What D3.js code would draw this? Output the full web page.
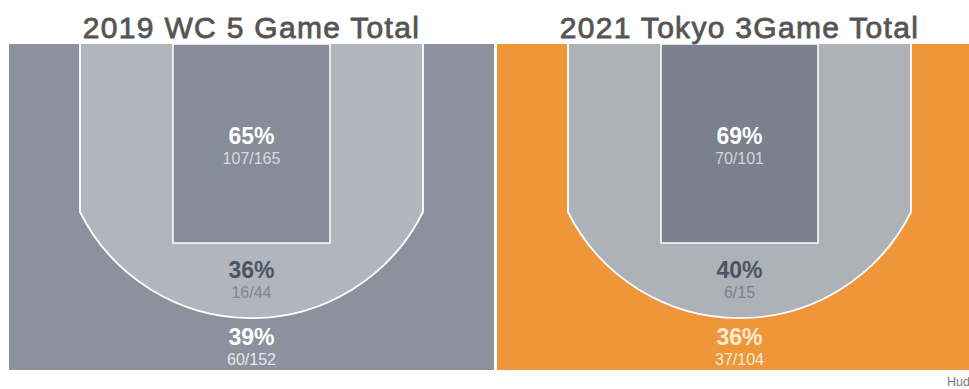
<!DOCTYPE html>
<html>
<head>
<meta charset="utf-8">
<script src="https://cdn.jsdelivr.net/npm/d3@7"></script>
<style>
  html, body { margin: 0; padding: 0; background: #fff; overflow: hidden; }
  svg { display: block; }
</style>
</head>
<body>
<div id="chart"></div>
<script>
// Shot zones: paint / mid-range / three-point, two tournaments
const titles   = ["2019 WC 5 Game Total", "2021 Tokyo 3Game Total"];
const zones    = ["paint", "mid", "three"];
const made     = [[107, 16, 60], [70, 6, 37]];
const attempts = [[165, 44, 152], [101, 15, 104]];

const width = 969, height = 389;
const panelW = 485, panelTop = 44, panelBottom = 370;

// colours per panel: outer (three), arc zone (mid), lane (paint)
const palettes = [
  { outer: "#8b929d", mid: "#b1b5bd", lane: "#868d99",
    txt: { paint: ["#ffffff", "#d6d9de"], mid: ["#4b5462", "#80858d"], three: ["#ffffff", "#e6e8eb"] } },
  { outer: "#f0963a", mid: "#adb1b8", lane: "#7a818c",
    txt: { paint: ["#ffffff", "#d3d6db"], mid: ["#4b5462", "#7b8088"], three: ["#fde8d0", "#fdebd8"] } }
];

const svg = d3.select("#chart").append("svg")
  .attr("width", width)
  .attr("height", height);

// panel placement
const x = d3.scaleBand()
  .domain(titles)
  .range([9, 9 + panelW * 2 + 3])
  .paddingInner(3 / (panelW + 3));

// court geometry relative to panel centre (px)
const cornerHalf = 171.5, cornerBottom = 212;
const arcR = 191.7;
const laneHalf = 78.5, laneBottom = 243;

const labelY = { paint: [144, 164], mid: [278, 298], three: [345, 365] };

titles.forEach((title, i) => {
  const x0 = x(title);
  const cx = x0 + panelW / 2;
  const pal = palettes[i];
  const g = svg.append("g");

  g.append("rect")
    .attr("x", x0).attr("y", panelTop)
    .attr("width", panelW).attr("height", panelBottom - panelTop)
    .attr("fill", pal.outer);

  // mid-range area inside the three-point line
  g.append("path")
    .attr("d", `M${cx - cornerHalf},${panelTop} L${cx - cornerHalf},${cornerBottom}
      A${arcR},${arcR} 0 0 0 ${cx + cornerHalf},${cornerBottom} L${cx + cornerHalf},${panelTop}`)
    .attr("fill", pal.mid)
    .attr("stroke", "#fff")
    .attr("stroke-width", 1.8);

  // paint
  g.append("rect")
    .attr("x", cx - laneHalf).attr("y", panelTop)
    .attr("width", laneHalf * 2).attr("height", laneBottom - panelTop)
    .attr("fill", pal.lane)
    .attr("stroke", "#fff")
    .attr("stroke-width", 1.5);

  // title
  svg.append("text")
    .attr("x", cx).attr("y", 38)
    .attr("text-anchor", "middle")
    .style("font-family", "'Liberation Sans', Arial, sans-serif")
    .style("font-size", "30px")
    .style("letter-spacing", "1.3px")
    .style("fill", "#555")
    .style("stroke", "#555")
    .style("stroke-width", "0.8px")
    .text(title);

  zones.forEach((z, j) => {
    const pct = Math.round(made[i][j] / attempts[i][j] * 100);
    g.append("text")
      .attr("x", cx).attr("y", labelY[z][0])
      .attr("text-anchor", "middle")
      .style("font-family", "'Liberation Sans', Arial, sans-serif")
      .style("font-size", "23px")
      .style("font-weight", "bold")
      .style("fill", pal.txt[z][0])
      .text(pct + "%");
    g.append("text")
      .attr("x", cx).attr("y", labelY[z][1])
      .attr("text-anchor", "middle")
      .style("font-family", "'Liberation Sans', Arial, sans-serif")
      .style("font-size", "16px")
      .style("fill", pal.txt[z][1])
      .text(made[i][j] + "/" + attempts[i][j]);
  });
});

// source credit, cut by the right edge as in the original
svg.append("text")
  .attr("x", 947).attr("y", 386)
  .style("font-family", "'Liberation Sans', Arial, sans-serif")
  .style("font-size", "12.5px")
  .style("fill", "#777")
  .text("Hudl");
</script>
</body>
</html>
